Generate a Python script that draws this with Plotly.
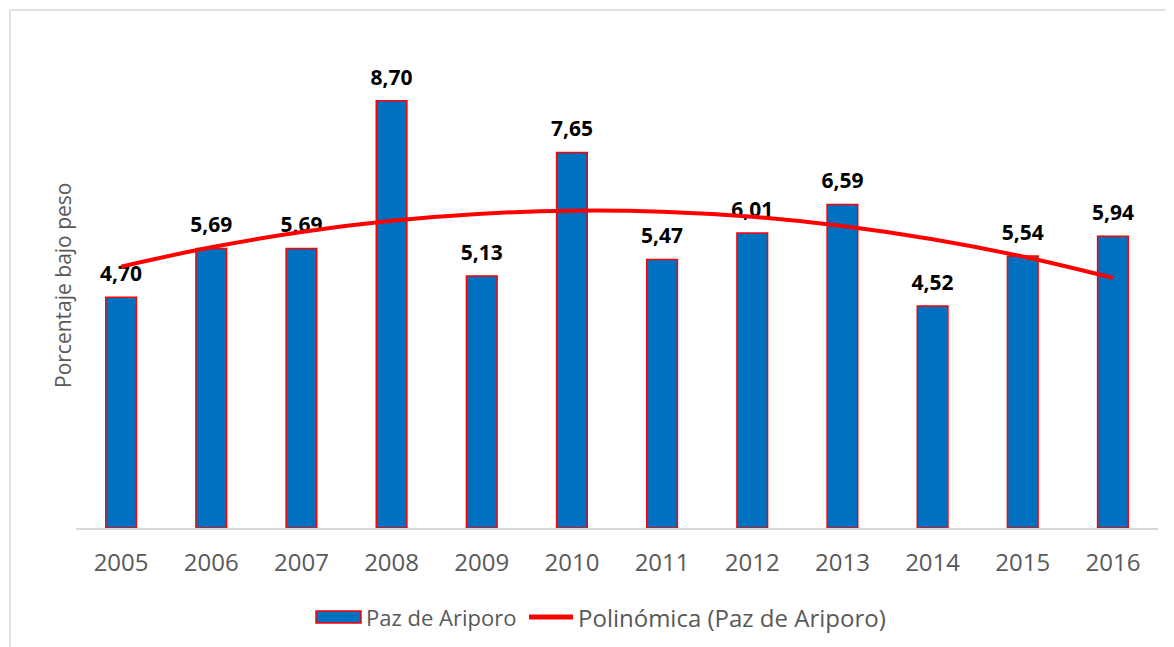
import numpy as np
import plotly.graph_objects as go

years = [2005, 2006, 2007, 2008, 2009, 2010, 2011, 2012, 2013, 2014, 2015, 2016]
values = [4.70, 5.69, 5.69, 8.70, 5.13, 7.65, 5.47, 6.01, 6.59, 4.52, 5.54, 5.94]
labels = [f"{v:.2f}".replace(".", ",") for v in values]
series_name = "Paz de Ariporo"
trend_name = "Polinómica (Paz de Ariporo)"
y_title = "Porcentaje bajo peso"

# Excel-style polynomial (order 2) trendline fitted to the data
idx = np.arange(1, len(years) + 1)
coef = np.polyfit(idx, values, 2)
trend = np.polyval(coef, idx)

OFF = 8  # page body margin
W, H = 1174 - OFF, 647 - OFF
L, T = 76 - OFF, 37 - OFF
pw, ph = 1082, 491
R, B = W - L - pw, H - T - ph

def px(xp):
    return (xp - OFF - L) / pw

def py(yp):
    return (T + ph - (yp - OFF)) / ph

fig = go.Figure()
fig.add_trace(go.Bar(
    x=years, y=values, name=series_name, showlegend=False,
    marker=dict(color="#0070C0", line=dict(color="#FF0000", width=1.5)),
    width=0.34,
))
fig.add_trace(go.Scatter(
    x=years, y=values, mode="text+markers", text=labels,
    textposition="top center", showlegend=False, hoverinfo="skip",
    marker=dict(size=16, opacity=0),
    textfont=dict(family="Open Sans", size=21, color="#000000", weight="bold"),
))
fig.add_trace(go.Scatter(
    x=years, y=trend, mode="lines", name=trend_name, showlegend=False,
    line=dict(color="#FF0000", width=4, shape="spline"),
))

legend_y = 617
shapes = [
    dict(type="rect", xref="paper", yref="paper",
         x0=px(10), x1=px(1200), y0=py(700), y1=py(10),
         line=dict(color="#D9D9D9", width=1.5), fillcolor="rgba(0,0,0,0)", layer="below"),
    dict(type="rect", xref="paper", yref="paper",
         x0=px(316), x1=px(361), y0=py(legend_y + 6), y1=py(legend_y - 6),
         line=dict(color="#FF0000", width=1.5), fillcolor="#0070C0"),
    dict(type="line", xref="paper", yref="paper",
         x0=px(529), x1=px(573), y0=py(legend_y), y1=py(legend_y),
         line=dict(color="#FF0000", width=5)),
]
annotations = [
    dict(text=series_name, xref="paper", yref="paper", x=px(364), y=py(legend_y),
         xanchor="left", yanchor="middle", showarrow=False,
         font=dict(size=22, color="#595959")),
    dict(text=trend_name, xref="paper", yref="paper", x=px(576), y=py(legend_y),
         xanchor="left", yanchor="middle", showarrow=False,
         font=dict(size=24, color="#595959")),
    dict(text=y_title, xref="paper", yref="paper", x=px(63), y=py(286),
         xanchor="center", yanchor="middle", showarrow=False, textangle=-90,
         font=dict(size=21, color="#595959")),
]

fig.update_layout(
    width=W, height=H,
    margin=dict(l=L, r=R, t=T, b=B, autoexpand=False),
    paper_bgcolor="white", plot_bgcolor="white",
    font=dict(family="Open Sans", color="#595959"),
    showlegend=False,
    xaxis=dict(
        tickmode="array", tickvals=years, ticktext=[str(y) for y in years],
        range=[2004.5, 2016.5], showgrid=False, zeroline=False, automargin=False,
        showline=True, linecolor="#D9D9D9", linewidth=1.5,
        tickfont=dict(size=24, color="#595959"), ticks="", ticklabelstandoff=12,
    ),
    yaxis=dict(
        range=[0, 10], showgrid=False, zeroline=False, showticklabels=False,
        showline=False, automargin=False,
    ),
    shapes=shapes,
    annotations=annotations,
)

fig.write_html("out.html")
